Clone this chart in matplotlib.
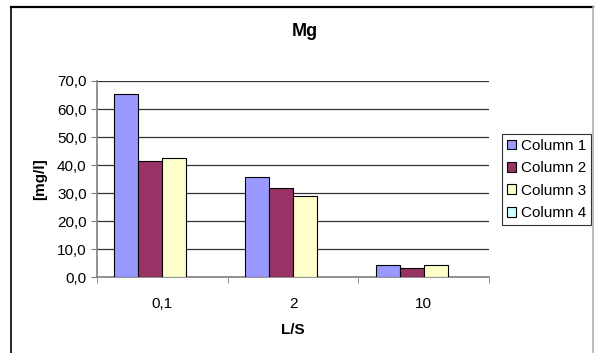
import matplotlib
matplotlib.use("Agg")
import matplotlib.pyplot as plt
import numpy as np
from matplotlib.lines import Line2D
from matplotlib.ticker import FuncFormatter

plt.rcParams["font.family"] = ["Liberation Sans", "DejaVu Sans"]

# Mg release per L/S ratio
categories = ["0,1", "2", "10"]
series_names = ["Column 1", "Column 2", "Column 3", "Column 4"]
column1 = [65.5, 35.9, 4.3]
column2 = [41.5, 32.0, 3.2]
column3 = [42.7, 29.0, 4.3]
column4 = [np.nan, np.nan, np.nan]
series = [column1, column2, column3, column4]
colors = ["#9999FF", "#993366", "#FFFFCC", "#CCFFFF"]

W, H = 596, 353
fig = plt.figure(figsize=(W / 100, H / 100), dpi=100)
ax = fig.add_axes([97 / W, 1 - 277.3 / H, (489 - 97) / W, (277.3 - 81) / H])

x = np.arange(len(categories))
w = 0.1837
for i, (name, vals) in enumerate(zip(series_names, series)):
    ax.bar(x + (i - 1.5) * w, vals, w, color=colors[i], edgecolor="black",
           lw=0.8, label=name, zorder=3)

ax.set_xlim(-0.5, len(categories) - 0.5)
ax.set_ylim(0, 70)
ax.set_yticks(np.arange(0, 71, 10))
ax.yaxis.set_major_formatter(FuncFormatter(lambda v, p: f"{v:.1f}".replace(".", ",")))
ax.set_xticks(x)
ax.set_xticklabels(categories)
ax.set_xticks(np.arange(-0.5, len(categories), 1), minor=True)
ax.tick_params(axis="x", which="major", length=0, pad=14, labelsize=11)
ax.tick_params(axis="x", which="minor", length=4, color="#808080", direction="out")
ax.tick_params(axis="y", length=4, color="#808080", direction="out", labelsize=11)

ax.grid(axis="y", color="#333333", lw=0.9, zorder=0)
ax.set_axisbelow(True)
for s in ("top", "right"):
    ax.spines[s].set_visible(False)
for s in ("left", "bottom"):
    ax.spines[s].set_color("#808080")
    ax.spines[s].set_linewidth(1.2)

# title is centred on the whole chart area, not the plot
fig.text(305 / W, 1 - 32 / H, "Mg", fontsize=13, fontweight="bold",
         ha="center", va="center")
ax.set_xlabel("L/S", fontsize=11, fontweight="bold", labelpad=9)
ax.set_ylabel("[mg/l]", fontsize=11, fontweight="bold", labelpad=7)

leg = ax.legend(loc="center left", bbox_to_anchor=(502 / W, 1 - 179.5 / H),
                bbox_transform=fig.transFigure, frameon=True, fancybox=False,
                edgecolor="black", fontsize=11, handlelength=0.6,
                handleheight=0.6, handletextpad=0.35, labelspacing=0.55,
                borderpad=0.3, borderaxespad=0)
leg.get_frame().set_linewidth(0.8)

# chart area border (bottom edge runs off the image)
fig.add_artist(Line2D([11 / W, 593 / W], [1 - 7 / H, 1 - 7 / H], color="black", lw=1.6))
fig.add_artist(Line2D([11 / W, 11 / W], [0, 1 - 7 / H], color="black", lw=1.2))
fig.add_artist(Line2D([593 / W, 593 / W], [0, 1 - 7 / H], color="#b0b0b0", lw=1.2))

fig.savefig("out.png", dpi=100)
